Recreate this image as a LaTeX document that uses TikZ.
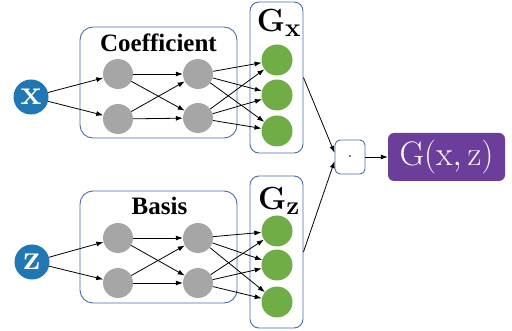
\RequirePackage{fix-cm}
\documentclass[tikz,border=0pt]{standalone}
\usepackage[no-math]{fontspec}
\setmainfont{Liberation Serif}
\usetikzlibrary{arrows.meta}
\DeclareMathSizes{32}{32}{26}{18}

\definecolor{inblue}{RGB}{32,119,180}
\definecolor{frameblue}{RGB}{74,108,168}
\definecolor{hidgray}{RGB}{166,166,166}
\definecolor{outgreen}{RGB}{112,173,71}
\definecolor{prodpurple}{RGB}{107,62,155}

\tikzset{
    inp/.style={circle, fill=inblue, text=white, minimum size=35pt, inner sep=0pt, font=\fontsize{35}{35}\selectfont},
    hid/.style={circle, fill=hidgray, minimum size=30pt, inner sep=0pt},
    outn/.style={circle, fill=outgreen, minimum size=31pt, inner sep=0pt},
    netbox/.style={draw=frameblue, line width=0.9pt, rounded corners=13pt, minimum width=157pt, minimum height=111pt},
    genbox/.style={draw=frameblue, line width=0.9pt, rounded corners=9pt, minimum width=53pt, minimum height=151pt},
    boxlabel/.style={anchor=base, font=\fontsize{25}{25}\selectfont\bfseries},
    glabel/.style={anchor=base, font=\fontsize{32}{32}\selectfont},
    conn/.style={-{Latex[length=7pt,width=5pt]}, line width=0.8pt}
}

\begin{document}
\begin{tikzpicture}[x=1pt, y=-1pt]
            \useasboundingbox (0, 0) rectangle (512, 331);

            % coefficient net
            \node[netbox] (coefbox) at (158.5, 82.5) {};
            \node[boxlabel] (coeflabel) at (158.5, 52) {Coefficient};
            \node[inp] (x) at (31, 97) {$\mathbf{x}$};
            \node[hid] (c11) at (118, 74) {};
            \node[hid] (c12) at (118, 119) {};
            \node[hid] (c21) at (198, 74) {};
            \node[hid] (c22) at (198, 118) {};
            \node[genbox] (gxbox) at (276.5, 77.5) {};
            \node[glabel] (gxlabel) at (279, 32) {$\mathbf{G_x}$};
            \node[outn] (gx1) at (277, 60) {};
            \node[outn] (gx2) at (277, 95) {};
            \node[outn] (gx3) at (277, 131) {};

            \draw[conn] (x) -- (c11);
            \draw[conn] (x) -- (c12);
            \draw[conn] (c11) -- (c21);
            \draw[conn] (c11) -- (c22);
            \draw[conn] (c12) -- (c21);
            \draw[conn] (c12) -- (c22);
            \draw[conn] (c21) -- (gx1);
            \draw[conn] (c21) -- (gx2);
            \draw[conn] (c21) -- (gx3);
            \draw[conn] (c22) -- (gx1);
            \draw[conn] (c22) -- (gx2);
            \draw[conn] (c22) -- (gx3);

            % basis net
            \node[netbox, minimum height=112pt] (basisbox) at (158.5, 247) {};
            \node[boxlabel] (basislabel) at (159.5, 215) {Basis};
            \node[inp] (z) at (32, 262) {$\mathbf{z}$};
            \node[hid] (b11) at (118, 238) {};
            \node[hid] (b12) at (118, 283) {};
            \node[hid] (b21) at (198, 238) {};
            \node[hid] (b22) at (198, 283) {};
            \node[genbox, minimum height=152pt] (gzbox) at (276.5, 252) {};
            \node[glabel] (gzlabel) at (279, 210) {$\mathbf{G_z}$};
            \node[outn] (gz1) at (277, 231) {};
            \node[outn] (gz2) at (277, 265) {};
            \node[outn] (gz3) at (277, 302) {};

            \draw[conn] (z) -- (b11);
            \draw[conn] (z) -- (b12);
            \draw[conn] (b11) -- (b21);
            \draw[conn] (b11) -- (b22);
            \draw[conn] (b12) -- (b21);
            \draw[conn] (b12) -- (b22);
            \draw[conn] (b21) -- (gz1);
            \draw[conn] (b21) -- (gz2);
            \draw[conn] (b21) -- (gz3);
            \draw[conn] (b22) -- (gz1);
            \draw[conn] (b22) -- (gz2);
            \draw[conn] (b22) -- (gz3);

            % product
            \node[draw=frameblue, line width=0.9pt, rounded corners=5pt, minimum width=30pt, minimum height=34pt,
                  font=\fontsize{16}{16}\selectfont] (dot) at (350, 157) {$\cdot$};
            \node[fill=prodpurple, text=white, rounded corners=6pt, minimum width=117pt, minimum height=48pt,
                  inner sep=0pt, font=\fontsize{34}{34}\selectfont] (gxz) at (446.5, 157) {$\mathrm{G(x,z)}$};
            \draw[conn] (gxbox.east) -- (dot.165);
            \draw[conn] (gzbox.east) -- (dot.195);
            \draw[conn] (dot) -- (gxz);
        \end{tikzpicture}
\end{document}
